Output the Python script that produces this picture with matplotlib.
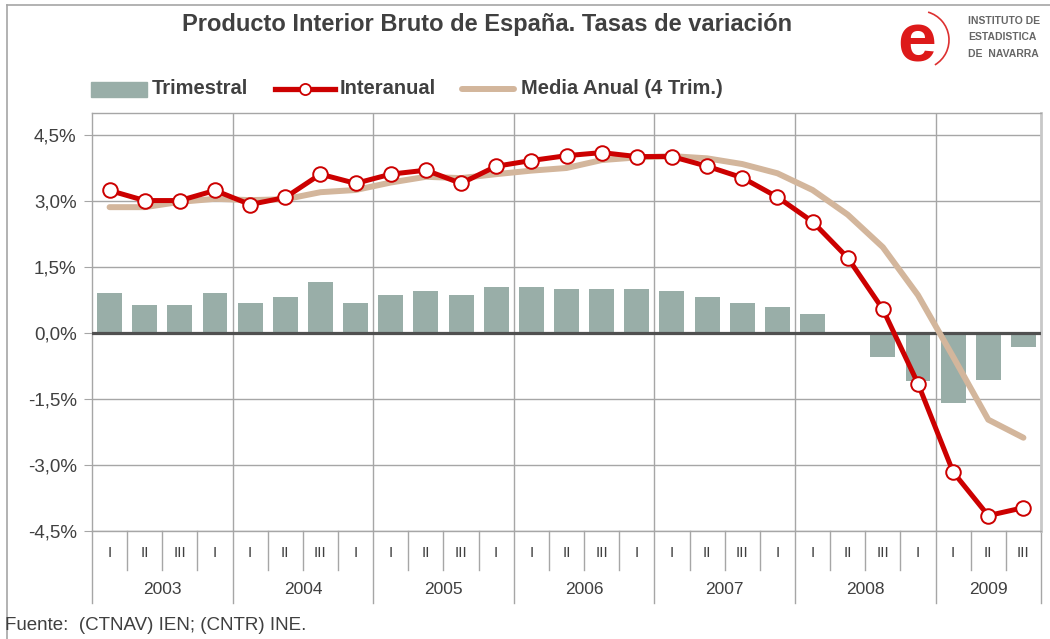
import numpy as np
import matplotlib
matplotlib.use("Agg")
import matplotlib.pyplot as plt
from matplotlib.lines import Line2D
from matplotlib.patches import Arc, Rectangle
from matplotlib.ticker import FuncFormatter

plt.rcParams['font.family'] = ['Liberation Sans', 'DejaVu Sans']

years = ['2003', '2004', '2005', '2006', '2007', '2008', '2009']
quarters_per_year = [4, 4, 4, 4, 4, 4, 3]
quarter_names = ['I', 'II', 'III', 'I']

trimestral = [0.90, 0.63, 0.63, 0.90,
              0.68, 0.81, 1.15, 0.68,
              0.86, 0.95, 0.86, 1.04,
              1.04, 0.99, 0.99, 0.99,
              0.95, 0.81, 0.68, 0.59,
              0.43, 0.03, -0.54, -1.10,
              -1.58, -1.06, -0.31]
interanual = [3.24, 3.01, 3.01, 3.24,
              2.92, 3.08, 3.61, 3.40,
              3.61, 3.70, 3.40, 3.79,
              3.92, 4.03, 4.10, 4.01,
              4.01, 3.79, 3.53, 3.09,
              2.53, 1.71, 0.54, -1.15,
              -3.16, -4.15, -3.97]
media_anual = [2.86, 2.86, 2.98, 3.05,
               3.02, 3.04, 3.20, 3.25,
               3.42, 3.55, 3.52, 3.61,
               3.69, 3.75, 3.93, 3.99,
               4.02, 3.97, 3.84, 3.63,
               3.25, 2.69, 1.95, 0.86,
               -0.54, -1.97, -2.38]
series_names = ['Trimestral', 'Interanual', 'Media Anual (4 Trim.)']

W, H = 1050, 639
txt = '#404040'
grid = '#a6a6a6'
bar_col = '#99aea8'
red = '#cc0000'
tan = '#d3b69c'


def fx(px):
    return px / W


def fy(py):
    return 1 - py / H


fig = plt.figure(figsize=(W / 100, H / 100), dpi=100)
ax = fig.add_axes([fx(92), fy(531), (1041 - 92) / W, (531 - 113) / H])

x = np.arange(len(trimestral))
ax.bar(x, trimestral, width=0.71, color=bar_col, zorder=2)
ax.axhline(0, color='#505050', lw=2.3, zorder=3)
ax.plot(x, media_anual, color=tan, lw=4.3, solid_capstyle='round', zorder=4)
ax.plot(x, interanual, color=red, lw=3.6, marker='o', markersize=10.5,
        markerfacecolor='white', markeredgecolor=red, markeredgewidth=1.4, zorder=5)

ax.set_xlim(-0.5, len(x) - 0.5)
ax.set_ylim(-4.5, 5.0)
ax.set_yticks([-4.5, -3.0, -1.5, 0.0, 1.5, 3.0, 4.5])
ax.yaxis.set_major_formatter(FuncFormatter(lambda v, p: f'{v:.1f}%'.replace('.', ',')))
ax.tick_params(axis='y', labelsize=13.5, labelcolor=txt, color=grid, length=6, pad=5)
ax.set_xticks([])
ax.grid(axis='y', color=grid, lw=1, zorder=0)
for s in ax.spines.values():
    s.set_color(grid)
    s.set_linewidth(1)
ax.spines['right'].set_color('#c8c8c8')
ax.spines['right'].set_linewidth(2)

# year separators and category labels
bounds = np.cumsum([0] + quarters_per_year) - 0.5
for b in bounds[1:-1]:
    ax.axvline(b, color=grid, lw=1, zorder=0)
for b in bounds:
    ax.plot([b, b], [0, -0.172], transform=ax.get_xaxis_transform(),
            color=grid, lw=1, clip_on=False)
i = 0
for yr, n in zip(years, quarters_per_year):
    for q in range(n):
        if q > 0:
            ax.plot([i - 0.5, i - 0.5], [0, -0.093], transform=ax.get_xaxis_transform(),
                    color=grid, lw=1, clip_on=False)
        ax.text(i, -0.053, quarter_names[q], transform=ax.get_xaxis_transform(),
                ha='center', va='center', fontsize=11, color=txt)
        i += 1
    mid = i - n / 2 - 0.5
    ax.text(mid, -0.141, yr, transform=ax.get_xaxis_transform(),
            ha='center', va='center', fontsize=12.5, color=txt)

# title
fig.text(fx(487), fy(24), 'Producto Interior Bruto de España. Tasas de variación',
         ha='center', va='center', fontsize=17, fontweight='bold', color=txt)

# legend drawn by hand to keep the reference spacing
ly = fy(89)
fig.add_artist(Rectangle((fx(91), fy(97)), fx(147) - fx(91), (97 - 82) / H,
                         color=bar_col, transform=fig.transFigure))
fig.add_artist(Line2D([fx(275), fx(335)], [ly, ly], color=red, lw=3.8,
                      transform=fig.transFigure))
fig.add_artist(Line2D([fx(305)], [ly], color=red, marker='o', markersize=8,
                      markerfacecolor='white', markeredgewidth=1.3, lw=0,
                      transform=fig.transFigure))
fig.add_artist(Line2D([fx(462), fx(514)], [ly, ly], color=tan, lw=4.3,
                      solid_capstyle='round', transform=fig.transFigure))
for px, name in zip([152, 340, 521], series_names):
    fig.text(fx(px), ly, name, ha='left', va='center', fontsize=14.5,
             fontweight='bold', color=txt)

# logo
fig.text(fx(917), fy(43), 'e', ha='center', va='center', fontsize=50,
         fontweight='bold', color='#dd1a1a')
fig.add_artist(Arc((fx(920), fy(40)), 58 / W, 58 / H, theta1=-70, theta2=80,
                   color='#dd3030', lw=1.2, transform=fig.transFigure))
for k, line in enumerate(['INSTITUTO DE', 'ESTADISTICA', 'DE  NAVARRA']):
    fig.text(fx(968), fy(21 + 16.5 * k), line, ha='left', va='center',
             fontsize=7.5, fontweight='bold', color='#666666')

# source
fig.text(fx(5), fy(625), 'Fuente:  (CTNAV) IEN; (CNTR) INE.',
         ha='left', va='center', fontsize=13.5, color=txt)

# chart frame
fig.add_artist(Line2D([fx(7), fx(7)], [0, fy(5)], color=grid, lw=1.2))
fig.add_artist(Line2D([fx(7), 1], [fy(5), fy(5)], color=grid, lw=1.2))

fig.savefig('out.png', dpi=100)
